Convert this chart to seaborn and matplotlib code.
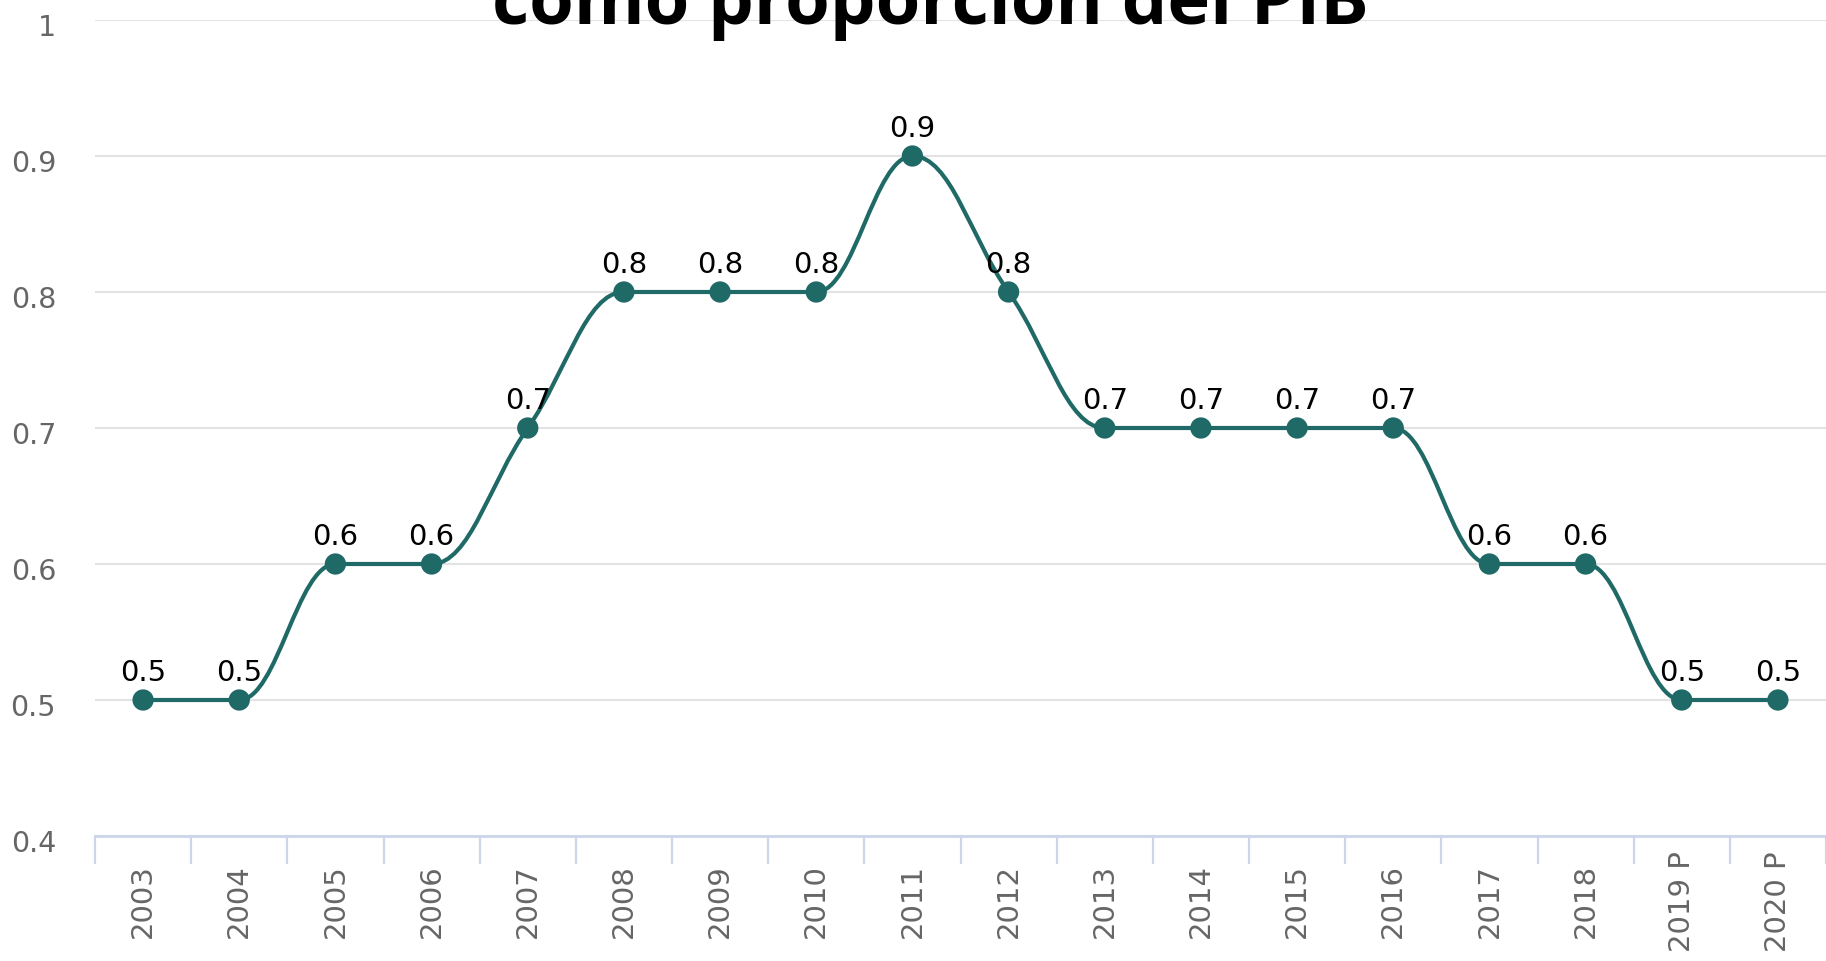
import numpy as np
import pandas as pd
import seaborn as sns
import matplotlib.pyplot as plt
from matplotlib.path import Path
from matplotlib.patches import PathPatch
from matplotlib.transforms import ScaledTranslation

# data
years = ["2003", "2004", "2005", "2006", "2007", "2008", "2009", "2010", "2011",
         "2012", "2013", "2014", "2015", "2016", "2017", "2018", "2019 P", "2020 P"]
values = [0.5, 0.5, 0.6, 0.6, 0.7, 0.8, 0.8, 0.8, 0.9,
          0.8, 0.7, 0.7, 0.7, 0.7, 0.6, 0.6, 0.5, 0.5]
y_ticks = [0.4, 0.5, 0.6, 0.7, 0.8, 0.9, 1.0]
title = "como proporción del PIB"

LINE = "#1f6a66"
GRID = "#e3e3e3"
AXIS = "#ccd6eb"


def spline_path(xs, ys, smoothing=1.5): #smooth curve through the points, highcharts style
    denom = smoothing + 1
    n = len(xs)
    lc = [(x, y) for x, y in zip(xs, ys)]
    rc = list(lc)
    for i in range(1, n - 1):
        px, py = xs[i], ys[i]
        lx, ly = xs[i - 1], ys[i - 1]
        nx, ny = xs[i + 1], ys[i + 1]
        lcx = (smoothing * px + lx) / denom
        lcy = (smoothing * py + ly) / denom
        rcx = (smoothing * px + nx) / denom
        rcy = (smoothing * py + ny) / denom
        corr = (rcy - lcy) * (rcx - px) / (rcx - lcx) + py - rcy
        lcy += corr
        rcy += corr
        if lcy > max(ly, py):
            lcy = max(ly, py)
            rcy = 2 * py - lcy
        elif lcy < min(ly, py):
            lcy = min(ly, py)
            rcy = 2 * py - lcy
        if rcy > max(py, ny):
            rcy = max(py, ny)
            lcy = 2 * py - rcy
        elif rcy < min(py, ny):
            rcy = min(py, ny)
            lcy = 2 * py - rcy
        lc[i] = (lcx, lcy)
        rc[i] = (rcx, rcy)
    verts = [(xs[0], ys[0])]
    codes = [Path.MOVETO]
    for i in range(1, n):
        verts += [rc[i - 1], lc[i], (xs[i], ys[i])]
        codes += [Path.CURVE4] * 3
    return Path(verts, codes)


sns.set_style("white")
plt.rcParams['font.family'] = ['DejaVu Sans']

df = pd.DataFrame({"pos": np.arange(len(years)), "year": years, "value": values})

fig = plt.figure(figsize=(18.26, 9.61), dpi=100)
W, H = 1826, 961
ax = fig.add_axes([95 / W, 125 / H, 1 - 95 / W, (836 - 20) / H])

ax.add_patch(PathPatch(spline_path(df["pos"].tolist(), df["value"].tolist()),
                       facecolor="none", edgecolor=LINE, lw=3.0, zorder=3,
                       capstyle="round", joinstyle="round"))
sns.scatterplot(data=df, x="pos", y="value", ax=ax, s=235, color=LINE,
                edgecolor="none", zorder=4, legend=False)

for p, v in zip(df["pos"], df["value"]):
    ax.annotate(f"{v:g}", (p, v), xytext=(0, 13.5), textcoords="offset points",
                ha="center", va="baseline", fontsize=21, color="black", zorder=5)

ax.set_xlim(-0.5, len(years) - 0.5)
ax.set_ylim(0.4, 1.0)
ax.set_yticks(y_ticks)
ax.set_yticklabels([f"{t:g}" for t in y_ticks])
ax.set_xticks(df["pos"])
ax.set_xticklabels(years, rotation=90, ha="center", va="center")
ax.set_xticks(np.arange(-0.5, len(years)), minor=True)
ax.tick_params(axis="x", which="major", bottom=True, length=0, pad=47, labelsize=21,
               labelcolor="#666666")
ax.tick_params(axis="x", which="minor", bottom=True, length=20, width=1.6, color=AXIS,
               direction="out")
ax.tick_params(axis="y", length=0, pad=28, labelsize=20.5, labelcolor="#666666")
for lab in ax.get_yticklabels():
    lab.set_transform(lab.get_transform() + ScaledTranslation(0, -0.05, fig.dpi_scale_trans))

ax.grid(axis="y", color=GRID, lw=1.5)
ax.grid(axis="x", visible=False)
for side in ["top", "left", "right"]:
    ax.spines[side].set_visible(False)
ax.spines["bottom"].set_color(AXIS)
ax.spines["bottom"].set_linewidth(2)
ax.spines["bottom"].set_zorder(2.5)
ax.set_xlabel("")
ax.set_ylabel("")

fig.text(930 / W, 1 - 24 / H, title, ha="center", va="baseline", color="black",
         fontsize=52, fontweight="bold", family=["Open Sans", "DejaVu Sans"])

fig.savefig("out.png", dpi=100)
